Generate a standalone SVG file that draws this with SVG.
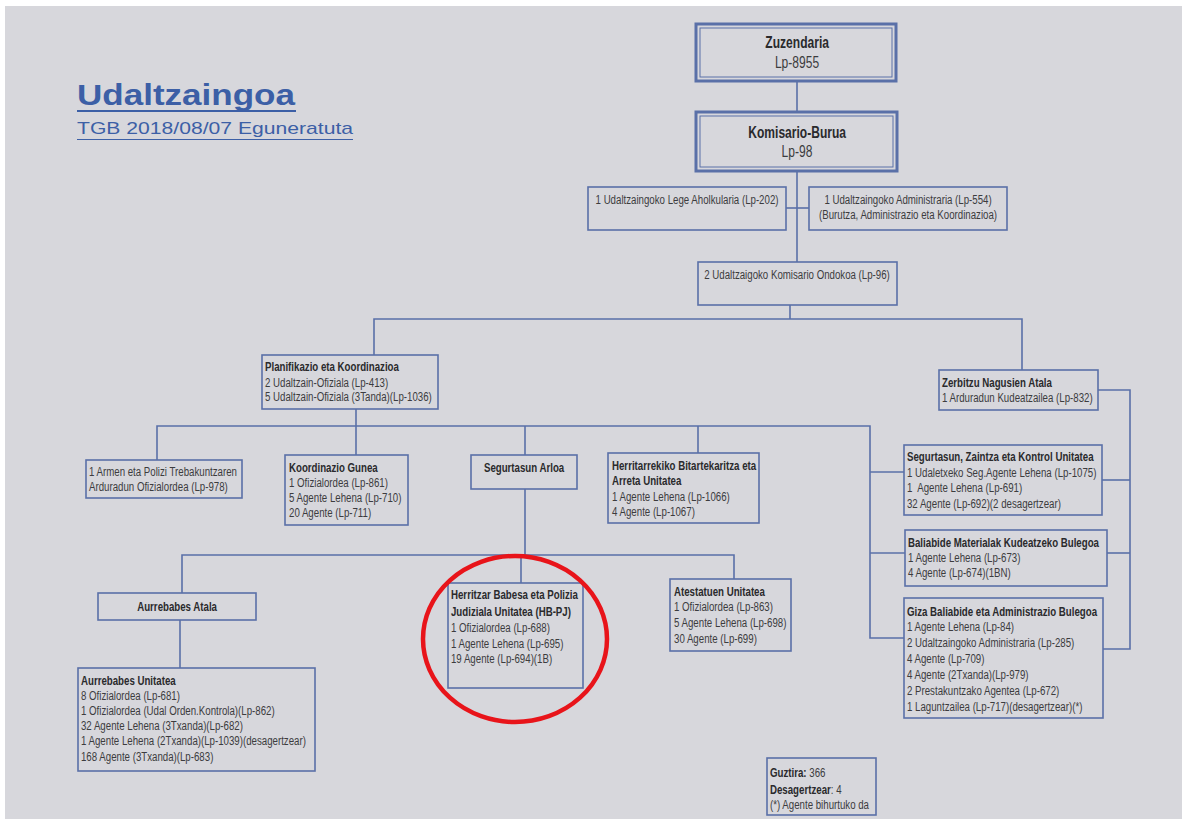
<svg xmlns="http://www.w3.org/2000/svg" width="1187" height="825" viewBox="0 0 1187 825">
<style>
.bx{fill:none;stroke:#5a70a8;stroke-width:1.6}
.bx2{fill:none;stroke:#5a70a8;stroke-width:3}
.ln{fill:none;stroke:#5a70a8;stroke-width:1.6}
text{font-family:"Liberation Sans",Arial,sans-serif;fill:#3c3c3e;font-size:12.5px}
.n text{transform-box:fill-box;transform-origin:0% 50%;transform:scaleX(0.775)}
.n text.m{transform-origin:50% 50%}
.n text.big{font-size:16.5px;transform:scaleX(0.73)}
.b{font-weight:bold;fill:#2a2a2c}
.m{text-anchor:middle}
</style>
<rect x="0" y="0" width="1187" height="825" fill="#ffffff"/>
<rect x="5" y="6" width="1177" height="813" fill="#d7d7dc"/>
<g id="title">
<text x="77" y="105" style="font-weight:bold;font-size:29px;fill:#3c5fa6" textLength="218" lengthAdjust="spacingAndGlyphs">Udaltzaingoa</text>
<rect x="77" y="110" width="219" height="2" fill="#3c5fa6"/>
<text x="77" y="134" style="font-size:17px;fill:#3c5fa6" textLength="276" lengthAdjust="spacingAndGlyphs">TGB 2018/08/07 Eguneratuta</text>
<rect x="77" y="139" width="276" height="1" fill="#3c5fa6"/>
</g>
<g id="connectors">
<path class="ln" d="M797 82V112"/>
<path class="ln" d="M797 171V262"/>
<path class="ln" d="M786 208H809"/>
<path class="ln" d="M790 305V319"/>
<path class="ln" d="M374 355V319H1022V370"/>
<path class="ln" d="M356 409V455"/>
<path class="ln" d="M157 460V426H870V638H904"/>
<path class="ln" d="M525 426V455"/>
<path class="ln" d="M698 426V453"/>
<path class="ln" d="M870 472H904"/>
<path class="ln" d="M870 553H905"/>
<path class="ln" d="M1098 390H1130V649H1103"/>
<path class="ln" d="M1102 480H1130"/>
<path class="ln" d="M1107 553H1130"/>
<path class="ln" d="M525 489V555"/>
<path class="ln" d="M182 593V555H734V579"/>
<path class="ln" d="M521 555V583"/>
<path class="ln" d="M180 620V668"/>
</g>
<g id="zuzendaria" class="n">
<rect class="bx2" x="696" y="24" width="200" height="57"/>
<rect class="bx" x="700" y="28" width="192" height="49" style="stroke-width:1"/>
<text class="b m big" x="797" y="48">Zuzendaria</text>
<text class="m big" x="797" y="68">Lp-8955</text>
</g>
<g id="komisario-burua" class="n">
<rect class="bx2" x="696" y="112" width="201" height="59"/>
<rect class="bx" x="700" y="116" width="193" height="51" style="stroke-width:1"/>
<text class="b m big" x="797" y="138">Komisario-Burua</text>
<text class="m big" x="797" y="157">Lp-98</text>
</g>
<g id="lege-aholkularia" class="n">
<rect class="bx" x="588" y="187" width="198" height="43"/>
<text class="m" x="687" y="204">1 Udaltzaingoko Lege Aholkularia (Lp-202)</text>
</g>
<g id="administraria" class="n">
<rect class="bx" x="809" y="187" width="198" height="43"/>
<text class="m" x="908" y="204">1 Udaltzaingoko Administraria (Lp-554)</text>
<text class="m" x="908" y="219">(Burutza, Administrazio eta Koordinazioa)</text>
</g>
<g id="komisario-ondokoa" class="n">
<rect class="bx" x="698" y="262" width="199" height="43"/>
<text class="m" x="797" y="279">2 Udaltzaigoko Komisario Ondokoa (Lp-96)</text>
</g>
<g id="planifikazio" class="n">
<rect class="bx" x="262" y="355" width="176" height="54"/>
<text class="b" x="265" y="371">Planifikazio eta Koordinazioa</text>
<text x="265" y="387">2 Udaltzain-Ofiziala (Lp-413)</text>
<text x="265" y="401">5 Udaltzain-Ofiziala (3Tanda)(Lp-1036)</text>
</g>
<g id="zerbitzu" class="n">
<rect class="bx" x="939" y="370" width="159" height="40"/>
<text class="b" x="942" y="387">Zerbitzu Nagusien Atala</text>
<text x="942" y="402">1 Arduradun Kudeatzailea (Lp-832)</text>
</g>
<g id="armen" class="n">
<rect class="bx" x="86" y="460" width="156" height="38"/>
<text x="89" y="476">1 Armen eta Polizi Trebakuntzaren</text>
<text x="89" y="491">Arduradun Ofizialordea (Lp-978)</text>
</g>
<g id="koordinazio-gunea" class="n">
<rect class="bx" x="285" y="455" width="123" height="70"/>
<text class="b" x="289" y="472">Koordinazio Gunea</text>
<text x="289" y="487">1 Ofizialordea (Lp-861)</text>
<text x="289" y="502">5 Agente Lehena (Lp-710)</text>
<text x="289" y="517">20 Agente (Lp-711)</text>
</g>
<g id="segurtasun-arloa" class="n">
<rect class="bx" x="471" y="455" width="106" height="34"/>
<text class="b m" x="524" y="472">Segurtasun Arloa</text>
</g>
<g id="herritarrekiko" class="n">
<rect class="bx" x="608" y="453" width="151" height="70"/>
<text class="b" x="612" y="470">Herritarrekiko Bitartekaritza eta</text>
<text class="b" x="612" y="485">Arreta Unitatea</text>
<text x="612" y="501">1 Agente Lehena (Lp-1066)</text>
<text x="612" y="516">4 Agente (Lp-1067)</text>
</g>
<g id="segurtasun-zaintza" class="n">
<rect class="bx" x="904" y="445" width="198" height="70"/>
<text class="b" x="907" y="461">Segurtasun, Zaintza eta Kontrol Unitatea</text>
<text x="907" y="477">1 Udaletxeko Seg.Agente Lehena (Lp-1075)</text>
<text x="907" y="492" xml:space="preserve">1  Agente Lehena (Lp-691)</text>
<text x="907" y="508">32 Agente (Lp-692)(2 desagertzear)</text>
</g>
<g id="baliabide-materialak" class="n">
<rect class="bx" x="905" y="530" width="202" height="56"/>
<text class="b" x="908" y="547">Baliabide Materialak Kudeatzeko Bulegoa</text>
<text x="908" y="562">1 Agente Lehena (Lp-673)</text>
<text x="908" y="577">4 Agente (Lp-674)(1BN)</text>
</g>
<g id="giza-baliabide" class="n">
<rect class="bx" x="904" y="598" width="199" height="120"/>
<text class="b" x="907" y="616">Giza Baliabide eta Administrazio Bulegoa</text>
<text x="907" y="631">1 Agente Lehena (Lp-84)</text>
<text x="907" y="647">2 Udaltzaingoko Administraria (Lp-285)</text>
<text x="907" y="663">4 Agente (Lp-709)</text>
<text x="907" y="679">4 Agente (2Txanda)(Lp-979)</text>
<text x="907" y="695">2 Prestakuntzako Agentea (Lp-672)</text>
<text x="907" y="711">1 Laguntzailea (Lp-717)(desagertzear)(*)</text>
</g>
<g id="aurrebabes-atala" class="n">
<rect class="bx" x="98" y="593" width="158" height="27"/>
<text class="b m" x="177" y="611">Aurrebabes Atala</text>
</g>
<g id="aurrebabes-unitatea" class="n">
<rect class="bx" x="78" y="668" width="237" height="103"/>
<text class="b" x="81" y="685">Aurrebabes Unitatea</text>
<text x="81" y="700">8 Ofizialordea (Lp-681)</text>
<text x="81" y="715">1 Ofizialordea (Udal Orden.Kontrola)(Lp-862)</text>
<text x="81" y="730">32 Agente Lehena (3Txanda)(Lp-682)</text>
<text x="81" y="745">1 Agente Lehena (2Txanda)(Lp-1039)(desagertzear)</text>
<text x="81" y="761">168 Agente (3Txanda)(Lp-683)</text>
</g>
<g id="herritzar-babesa" class="n">
<rect class="bx" x="448" y="583" width="135" height="105"/>
<text class="b" x="451" y="599">Herritzar Babesa eta Polizia</text>
<text class="b" x="451" y="616">Judiziala Unitatea (HB-PJ)</text>
<text x="451" y="632">1 Ofizialordea (Lp-688)</text>
<text x="451" y="648">1 Agente Lehena (Lp-695)</text>
<text x="451" y="663">19 Agente (Lp-694)(1B)</text>
</g>
<g id="atestatuen" class="n">
<rect class="bx" x="670" y="579" width="121" height="72"/>
<text class="b" x="674" y="596">Atestatuen Unitatea</text>
<text x="674" y="611">1 Ofizialordea (Lp-863)</text>
<text x="674" y="627">5 Agente Lehena (Lp-698)</text>
<text x="674" y="643">30 Agente (Lp-699)</text>
</g>
<g id="guztira" class="n">
<rect class="bx" x="767" y="758" width="109" height="57"/>
<text x="770" y="777"><tspan class="b">Guztira:</tspan> 366</text>
<text x="770" y="794"><tspan class="b">Desagertzear</tspan>: 4</text>
<text x="770" y="809">(*) Agente bihurtuko da</text>
</g>
<g id="highlight">
<ellipse cx="515" cy="639" rx="92" ry="83" fill="none" stroke="#e8141a" stroke-width="4.5"/>
</g>
</svg>
